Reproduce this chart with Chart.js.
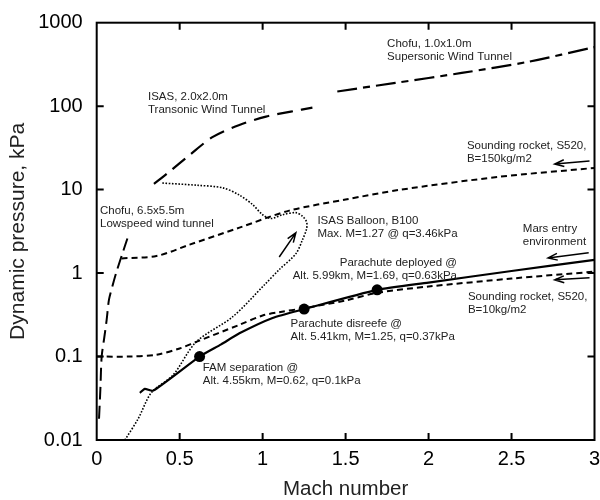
<!DOCTYPE html>
<html><head><meta charset="utf-8">
<script src="https://cdn.jsdelivr.net/npm/chart.js@4.4.1/dist/chart.umd.min.js"></script>
<style>html,body{margin:0;padding:0;background:#fff}</style>
</head><body>
<canvas id="c" width="600" height="500" style="width:600px;height:500px;display:block"></canvas>
<script>
// ---- data (Mach number, dynamic pressure kPa) ----
const chofuLowMach = [0.014, 0.022, 0.03, 0.044, 0.06, 0.074, 0.095, 0.117, 0.15, 0.185];
const chofuLowQ    = [0.018, 0.04, 0.1, 0.16, 0.275, 0.48, 0.7, 1.0, 1.6, 2.6];

const isasTransMach = [0.345, 0.43, 0.56, 0.7, 0.86, 1.02, 1.17, 1.3];
const isasTransQ    = [11.7, 15.9, 26, 42.8, 59.6, 75, 86, 96];

const chofuSuperMach = [1.45, 1.8, 2.2, 2.6, 3.0];
const chofuSuperQ    = [150, 190, 250, 340, 510];

const rocket150Mach = [0.15, 0.36, 0.56, 0.86, 1.16, 1.5, 1.82, 2.42, 3.0];
const rocket150Q    = [1.5, 1.6, 2.19, 3.5, 5.6, 7.6, 9.9, 14.2, 18.2];

const rocket10Mach = [0.0, 0.2, 0.36, 0.5, 0.6, 0.86, 1.0, 1.1, 1.25, 1.5, 1.69, 2.0, 2.5, 3.0];
const rocket10Q    = [0.1, 0.1, 0.105, 0.125, 0.15, 0.24, 0.31, 0.34, 0.38, 0.47, 0.58, 0.69, 0.86, 1.04];

const balloonMach = [0.17, 0.25, 0.33, 0.46, 0.6, 0.82, 1.01, 1.1, 1.2, 1.24, 1.265, 1.265, 1.24, 1.2, 1.12, 1.05, 1.0, 0.94, 0.86, 0.76, 0.6, 0.39];
const balloonQ    = [0.01, 0.018, 0.037, 0.06, 0.15, 0.3, 0.72, 1.1, 1.7, 2.5, 3.4, 4.1, 4.8, 5.3, 5.0, 4.5, 5.0, 6.6, 8.6, 10.5, 11.3, 12.0];

const marsMach = [0.26, 0.29, 0.34, 0.62, 0.75, 0.86, 1.06, 1.25, 1.69, 2.0, 2.5, 3.0];
const marsQ    = [0.0367, 0.041, 0.039, 0.1, 0.14, 0.19, 0.29, 0.37, 0.63, 0.77, 1.06, 1.44];

const eventMach = [0.62, 1.25, 1.69];
const eventQ    = [0.1, 0.37, 0.63];

const xTickValues = [0, 0.5, 1, 1.5, 2, 2.5, 3];
const xTickLabels = ["0", "0.5", "1", "1.5", "2", "2.5", "3"];
const yTickValues = [0.01, 0.1, 1, 10, 100, 1000];
const yTickLabels = ["0.01", "0.1", "1", "10", "100", "1000"];

const labelTexts = [
  ["Chofu, 1.0x1.0m", "Supersonic Wind Tunnel"],
  ["ISAS, 2.0x2.0m", "Transonic Wind Tunnel"],
  ["Sounding rocket, S520,", "B=150kg/m2"],
  ["Chofu, 6.5x5.5m", "Lowspeed wind tunnel"],
  ["ISAS Balloon, B100", "Max. M=1.27 @ q=3.46kPa"],
  ["Mars entry", "environment"],
  ["Parachute deployed @", "Alt. 5.99km, M=1.69, q=0.63kPa"],
  ["Parachute disreefe @", "Alt. 5.41km, M=1.25, q=0.37kPa"],
  ["Sounding rocket, S520,", "B=10kg/m2"],
  ["FAM separation @", "Alt. 4.55km, M=0.62, q=0.1kPa"]
];
const labelMach = [1.75, 0.309, 2.231, 0.02, 1.33, 2.568, 2.171, 1.168, 2.237, 0.639];
const labelQ    = [556, 129, 33.4, 5.56, 4.22, 3.38, 1.32, 0.247, 0.519, 0.0733];
const labelAlign = ["left","left","left","left","left","left","right","left","left","left"];

const arrowFromMach = [2.97, 2.965, 2.97, 1.1];
const arrowFromQ    = [22, 1.75, 0.88, 1.56];
const arrowToMach   = [2.76, 2.72, 2.76, 1.2];
const arrowToQ      = [20.3, 1.52, 0.83, 3.03];

// ---- helpers ----
const FONT = '"Liberation Sans", Arial, sans-serif';
const pts = (xs, ys) => xs.map((v, i) => ({x: v, y: ys[i]}));
const lineDs = (xs, ys, dash, width, tension) => ({
  data: pts(xs, ys), showLine: true, borderColor: '#000', backgroundColor: '#000',
  borderWidth: width, borderDash: dash, pointRadius: 0, fill: false, tension: tension
});

const decor = {
  id: 'decor',
  afterDatasetsDraw(chart) {
    const {ctx, chartArea: a, scales: {x, y}} = chart;
    ctx.save();
    ctx.strokeStyle = '#000';
    ctx.lineWidth = 2;
    ctx.setLineDash([]);
    ctx.strokeRect(a.left, a.top, a.right - a.left, a.bottom - a.top);
    const tl = 7;
    ctx.beginPath();
    xTickValues.forEach(v => {
      if (v <= x.min || v >= x.max) return;
      const px = x.getPixelForValue(v);
      ctx.moveTo(px, a.bottom); ctx.lineTo(px, a.bottom - tl);
      ctx.moveTo(px, a.top); ctx.lineTo(px, a.top + tl);
    });
    yTickValues.forEach(v => {
      if (v <= y.min || v >= y.max) return;
      const py = y.getPixelForValue(v);
      ctx.moveTo(a.left, py); ctx.lineTo(a.left + tl, py);
      ctx.moveTo(a.right, py); ctx.lineTo(a.right - tl, py);
    });
    ctx.stroke();

    ctx.fillStyle = '#222';
    ctx.font = '11.5px ' + FONT;
    ctx.textBaseline = 'middle';
    labelTexts.forEach((lines, i) => {
      ctx.textAlign = labelAlign[i];
      const px = x.getPixelForValue(labelMach[i]);
      const py = y.getPixelForValue(labelQ[i]);
      lines.forEach((s, j) => ctx.fillText(s, px, py + j * 13));
    });

    ctx.lineWidth = 1.5;
    arrowFromMach.forEach((m, i) => {
      const x0 = x.getPixelForValue(m), y0 = y.getPixelForValue(arrowFromQ[i]);
      const x1 = x.getPixelForValue(arrowToMach[i]), y1 = y.getPixelForValue(arrowToQ[i]);
      const ang = Math.atan2(y1 - y0, x1 - x0);
      const hl = 10, ha = 0.35;
      ctx.beginPath();
      ctx.moveTo(x0, y0); ctx.lineTo(x1, y1);
      ctx.moveTo(x1 - hl * Math.cos(ang - ha), y1 - hl * Math.sin(ang - ha));
      ctx.lineTo(x1, y1);
      ctx.lineTo(x1 - hl * Math.cos(ang + ha), y1 - hl * Math.sin(ang + ha));
      ctx.stroke();
    });
    ctx.restore();
  }
};

new Chart(document.getElementById('c'), {
  type: 'scatter',
  data: {
    datasets: [
      lineDs(chofuLowMach, chofuLowQ, [13, 6], 2, 0.3),
      lineDs(isasTransMach, isasTransQ, [16, 8], 2.2, 0.3),
      lineDs(chofuSuperMach, chofuSuperQ, [20, 6, 7, 6], 2.2, 0.3),
      lineDs(rocket150Mach, rocket150Q, [6, 4], 2, 0.3),
      lineDs(rocket10Mach, rocket10Q, [6, 4], 2, 0.3),
      lineDs(balloonMach, balloonQ, [1.6, 1.6], 1.6, 0.3),
      lineDs(marsMach, marsQ, [], 2.2, 0.2),
      {data: pts(eventMach, eventQ), showLine: false, pointRadius: 5.5,
       backgroundColor: '#000', borderColor: '#000', pointBorderWidth: 0}
    ]
  },
  options: {
    responsive: false,
    animation: false,
    layout: {padding: {left: 0, right: 3.5, top: 22.7, bottom: 0}},
    plugins: {legend: {display: false}, tooltip: {enabled: false}},
    scales: {
      x: {
        type: 'linear', min: 0, max: 3,
        grid: {display: false, drawTicks: false},
        border: {display: false},
        afterBuildTicks: s => { s.ticks = xTickValues.map(v => ({value: v})); },
        ticks: {
          font: {size: 20, family: FONT}, color: '#000', padding: 7,
          maxRotation: 0, autoSkip: false,
          callback: (v, i) => xTickLabels[i]
        },
        title: {display: true, text: 'Mach number', color: '#222',
          font: {size: 20.5, family: FONT}, padding: {top: 4, bottom: -1.5}},
        afterFit: s => { s.height = 60; s.paddingLeft = 0; s.paddingRight = 0; }
      },
      y: {
        type: 'logarithmic', min: 0.01, max: 1000,
        grid: {display: false, drawTicks: false},
        border: {display: false},
        afterBuildTicks: s => { s.ticks = yTickValues.map(v => ({value: v})); },
        ticks: {
          font: {size: 20, family: FONT}, color: '#000', padding: 14,
          autoSkip: false,
          callback: (v, i) => yTickLabels[i]
        },
        title: {display: true, text: 'Dynamic pressure, kPa', color: '#222',
          font: {size: 21, family: FONT}, padding: {top: 6, bottom: 4}},
        afterFit: s => { s.width = 96.7; s.paddingTop = 0; s.paddingBottom = 0; }
      }
    }
  },
  plugins: [decor]
});
</script>
</body></html>
